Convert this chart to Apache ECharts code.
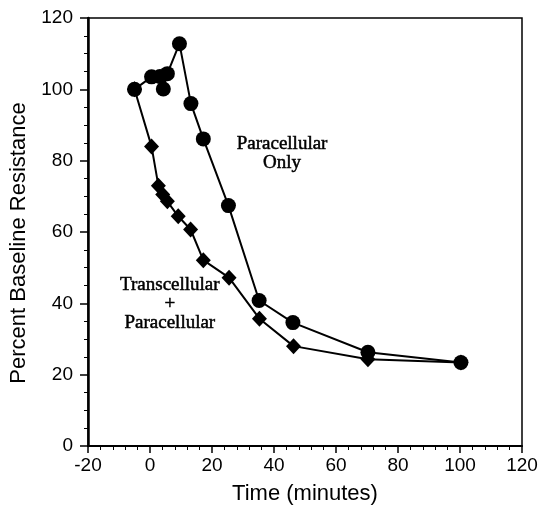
<!DOCTYPE html>
<html>
<head>
<meta charset="utf-8">
<script src="https://cdn.jsdelivr.net/npm/echarts@6/dist/echarts.min.js"></script>
<style>html,body{margin:0;padding:0;background:#fff}#c{width:541px;height:510px}</style>
</head>
<body>
<div id="c"></div>
<script>
// Paracellular Only (circles)
const timeParaOnly = [-5, 0.5, 3.2, 4.3, 5.6, 9.5, 13.2, 17.2, 25.3, 35.2, 46.1, 70.3, 100.3];
const paraOnly = [100, 103.5, 103.6, 100.1, 104.4, 112.8, 96, 86.1, 67.4, 40.8, 34.6, 26.3, 23.4];
// Transcellular + Paracellular (diamonds)
const timeTransPara = [-5, 0.5, 2.7, 4.1, 5.6, 9.1, 13.1, 17.2, 25.5, 35.3, 46.3, 70.3, 100.3];
const transPara = [100, 84.0, 73.0, 70.5, 68.6, 64.4, 60.7, 52.1, 47.2, 35.7, 28.0, 24.3, 23.4];
// Axis ticks
const xTicks = [-20, 0, 20, 40, 60, 80, 100, 120];
const yTicks = [0, 20, 40, 60, 80, 100, 120];
// Annotations: [x, y, text]
const annotations = [
  [42.6, 82.0, 'Paracellular\nOnly'],
  [6.4, 39.7, 'Transcellular\n+\nParacellular']
];

const chart = echarts.init(document.getElementById('c'), null, {renderer: 'canvas'});
const zip = (xs, ys) => xs.map((x, i) => [x, ys[i]]);
const axisFont = {fontFamily: 'Liberation Sans, Arial, sans-serif', color: '#000'};

chart.setOption({
  animation: false,
  backgroundColor: '#fff',
  grid: {left: 88, right: 19, top: 18, bottom: 63, show: true, borderColor: '#000', borderWidth: 1.5, backgroundColor: 'transparent'},
  xAxis: {
    type: 'value', min: xTicks[0], max: xTicks[xTicks.length - 1], interval: 20,
    name: 'Time (minutes)', nameLocation: 'middle', nameGap: 37,
    nameTextStyle: Object.assign({fontSize: 22}, axisFont),
    axisLine: {show: true, onZero: false, lineStyle: {color: '#000', width: 2}},
    axisTick: {show: true, inside: false, length: 7, lineStyle: {color: '#000', width: 1.5}},
    minorTick: {show: true, splitNumber: 5, length: 4, lineStyle: {color: '#000', width: 1}},
    axisLabel: Object.assign({fontSize: 19, margin: 10}, axisFont),
    splitLine: {show: false}
  },
  yAxis: {
    type: 'value', min: yTicks[0], max: yTicks[yTicks.length - 1], interval: 20,
    name: 'Percent Baseline Resistance', nameLocation: 'middle', nameGap: 50,
    nameTextStyle: Object.assign({fontSize: 22, padding: [0, 22, 0, 0]}, axisFont),
    axisLine: {show: true, onZero: false, lineStyle: {color: '#000', width: 2.5}},
    axisTick: {show: true, inside: false, length: 8, lineStyle: {color: '#000', width: 1.5}},
    minorTick: {show: true, splitNumber: 4, length: 4, lineStyle: {color: '#000', width: 1}},
    axisLabel: Object.assign({fontSize: 19, margin: 15}, axisFont),
    splitLine: {show: false}
  },
  series: [
    {
      name: 'Transcellular + Paracellular', type: 'line', data: zip(timeTransPara, transPara),
      symbol: 'diamond', symbolSize: [15, 16],
      lineStyle: {color: '#000', width: 2}, itemStyle: {color: '#000'}, z: 2
    },
    {
      name: 'Paracellular Only', type: 'line', data: zip(timeParaOnly, paraOnly),
      symbol: 'circle', symbolSize: 15,
      lineStyle: {color: '#000', width: 2}, itemStyle: {color: '#000'}, z: 3
    },
    {
      name: 'annotations', type: 'scatter', symbolSize: 1, silent: true,
      itemStyle: {color: 'rgba(0,0,0,0)'},
      data: annotations.map(a => ({value: [a[0], a[1]], label: {formatter: a[2]}})),
      label: {
        show: true, position: 'inside', align: 'center', verticalAlign: 'middle',
        fontFamily: 'Liberation Serif, Times New Roman, serif', fontSize: 19, lineHeight: 19,
        color: '#000', opacity: 1, textBorderColor: '#000', textBorderWidth: 0.5
      },
      z: 4
    }
  ]
});
</script>
</body>
</html>
